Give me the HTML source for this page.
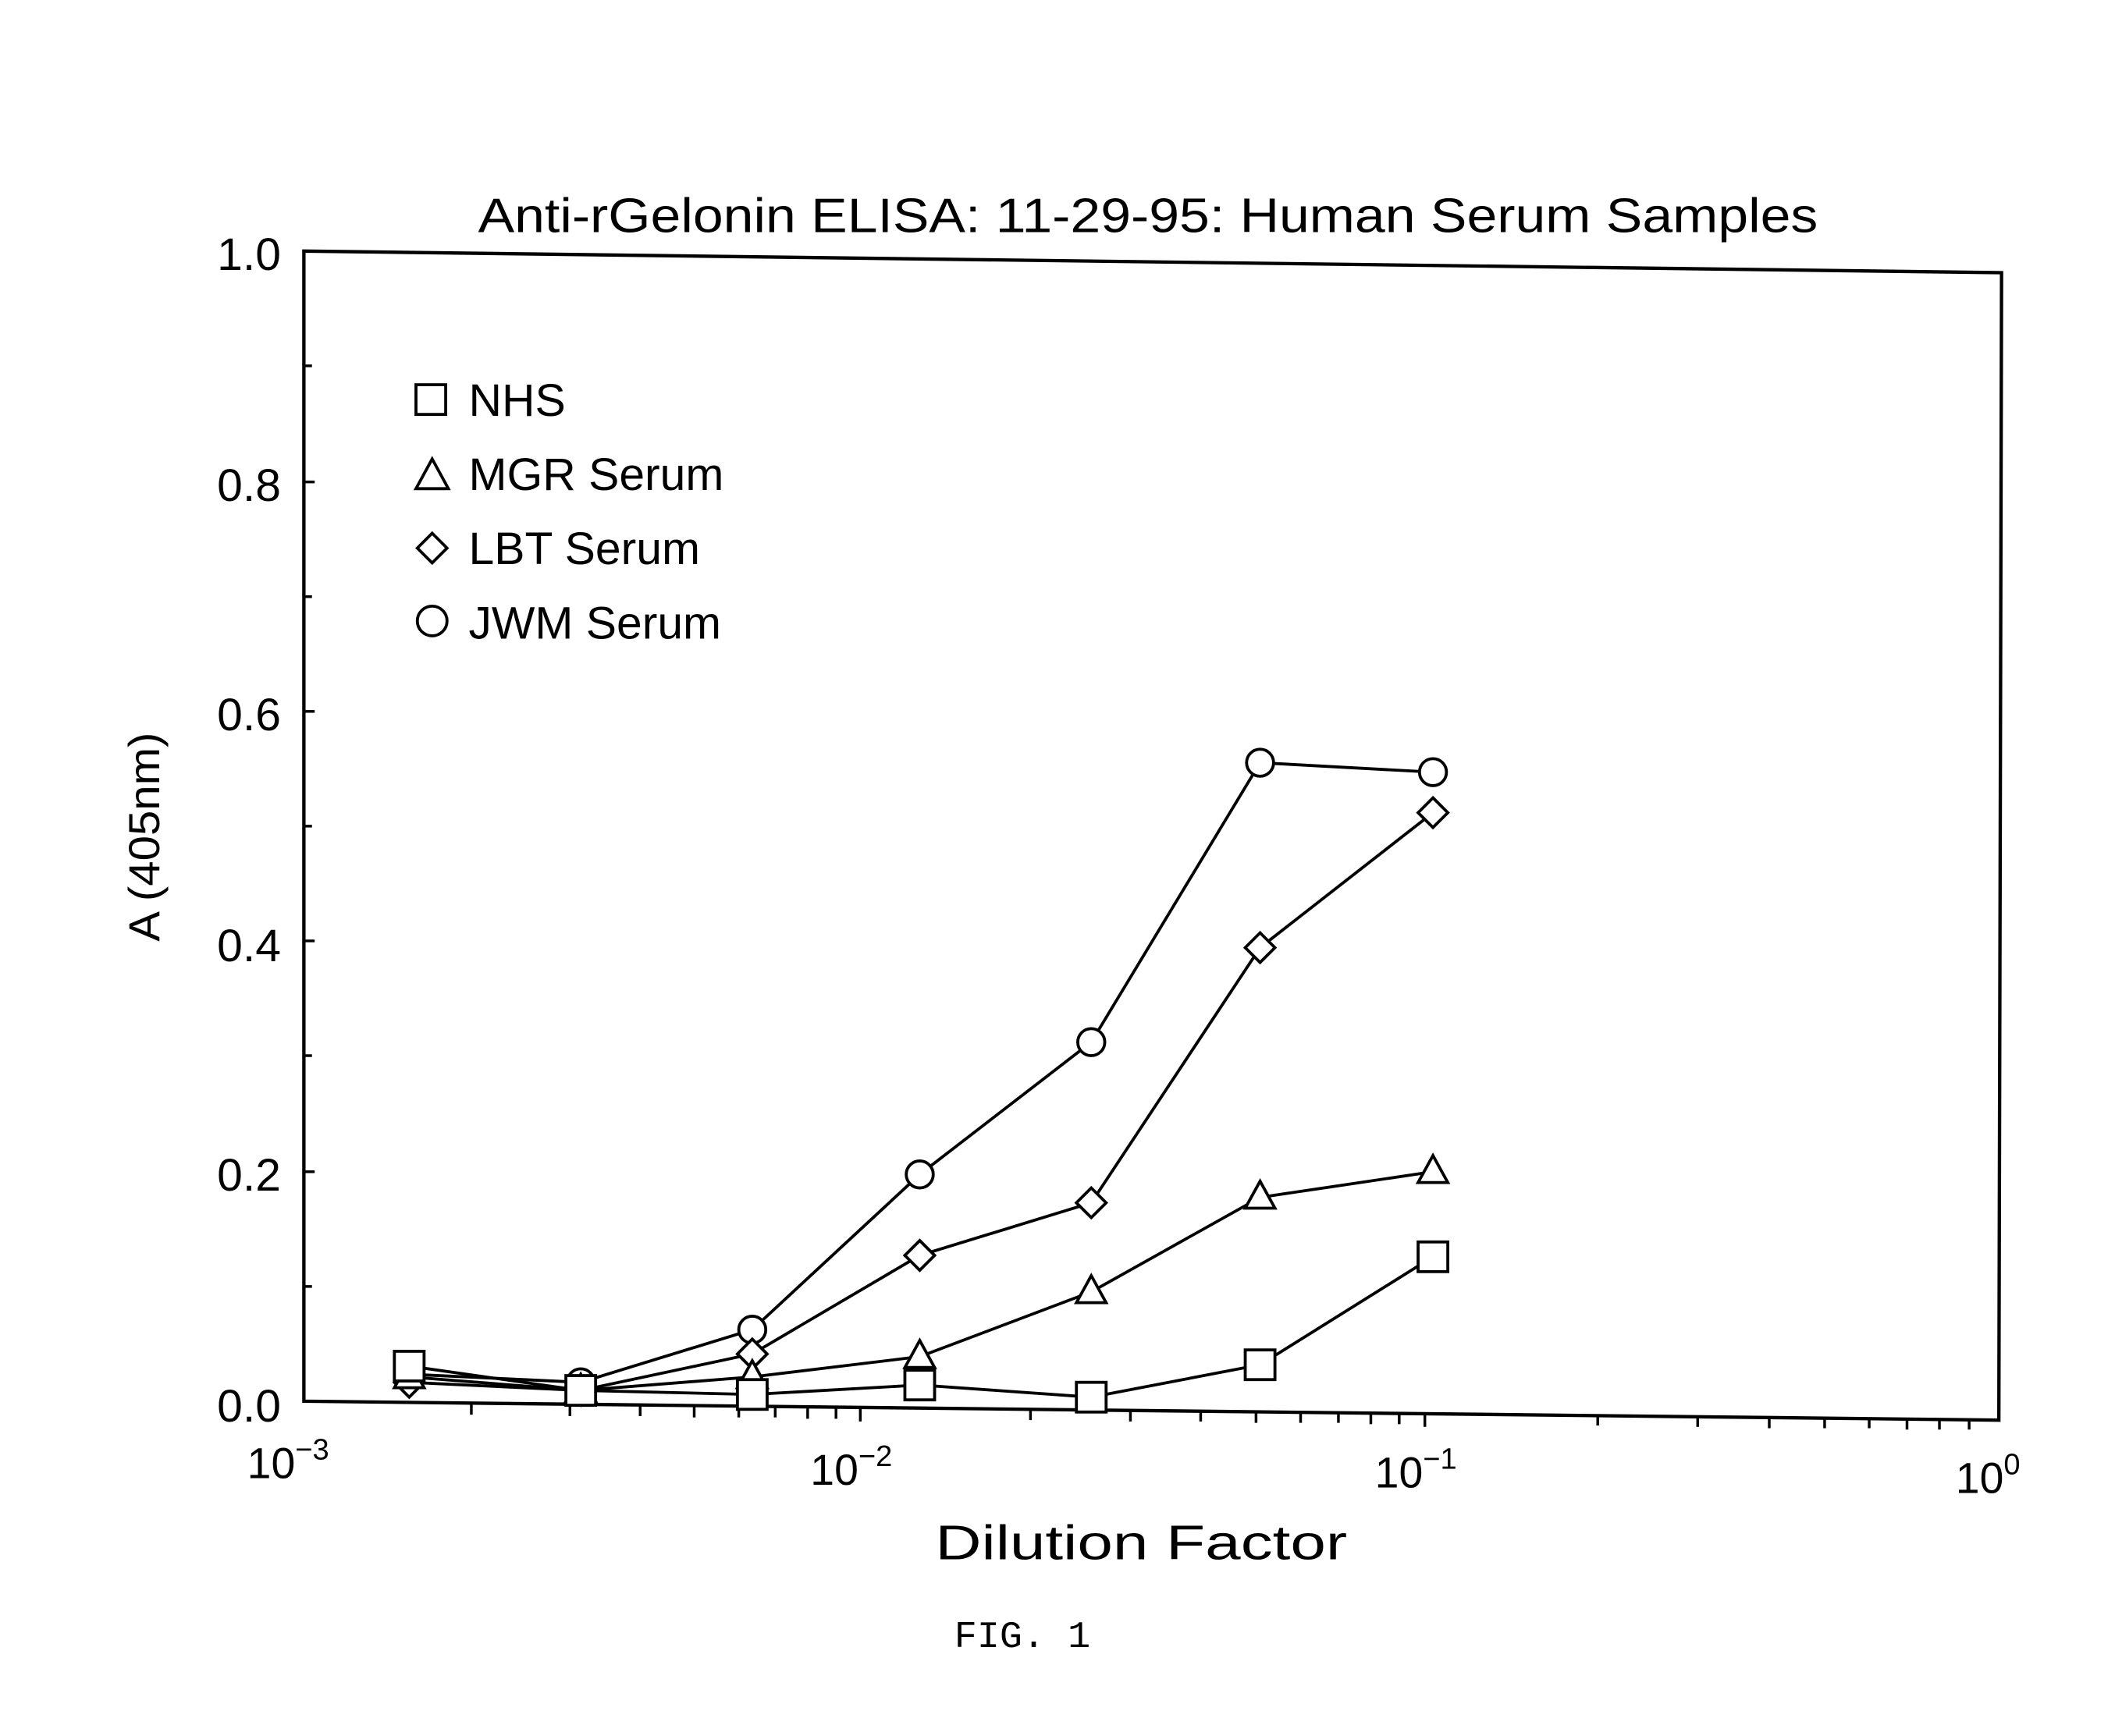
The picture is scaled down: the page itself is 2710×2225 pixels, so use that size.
<!DOCTYPE html>
<html><head><style>html,body{margin:0;padding:0;background:#fff}svg{display:block}</style></head><body>
<svg width="2710" height="2225" viewBox="0 0 1566 1286" preserveAspectRatio="none" xmlns="http://www.w3.org/2000/svg" font-family="'Liberation Sans',sans-serif">
<rect width="1566" height="1286" fill="#fff"/>
<text x="850" y="172" font-size="36" text-anchor="middle" textLength="992" lengthAdjust="spacingAndGlyphs">Anti-rGelonin ELISA: 11-29-95: Human Serum Samples</text>
<polygon points="225,186 1482,202 1480,1052 225,1038" fill="none" stroke="#000" stroke-width="2.5"/>
<g stroke="#000" stroke-width="2">
<line x1="225" y1="271" x2="231" y2="271"/><line x1="225" y1="357" x2="233" y2="357"/>
<line x1="225" y1="442" x2="231" y2="442"/><line x1="225" y1="527" x2="233" y2="527"/>
<line x1="225" y1="612" x2="231" y2="612"/><line x1="225" y1="697" x2="233" y2="697"/>
<line x1="225" y1="782" x2="231" y2="782"/><line x1="225" y1="868" x2="233" y2="868"/>
<line x1="225" y1="953" x2="231" y2="953"/>
</g>
<g stroke="#000" stroke-width="2">
<line x1="349" y1="1040" x2="349" y2="1048"/><line x1="422" y1="1041" x2="422" y2="1049"/><line x1="474" y1="1041" x2="474" y2="1049"/><line x1="514" y1="1042" x2="514" y2="1050"/><line x1="547" y1="1042" x2="547" y2="1050"/><line x1="574" y1="1042" x2="574" y2="1050"/><line x1="598" y1="1043" x2="598" y2="1051"/><line x1="619" y1="1043" x2="619" y2="1051"/><line x1="637" y1="1043" x2="637" y2="1053"/>
<line x1="763" y1="1044" x2="763" y2="1052"/><line x1="837" y1="1045" x2="837" y2="1053"/><line x1="889" y1="1045" x2="889" y2="1053"/><line x1="930" y1="1046" x2="930" y2="1054"/><line x1="963" y1="1046" x2="963" y2="1054"/><line x1="991" y1="1046" x2="991" y2="1054"/><line x1="1015" y1="1047" x2="1015" y2="1055"/><line x1="1036" y1="1047" x2="1036" y2="1055"/><line x1="1055" y1="1047" x2="1055" y2="1057"/>
<line x1="1183" y1="1048" x2="1183" y2="1056"/><line x1="1257" y1="1049" x2="1257" y2="1057"/><line x1="1310" y1="1050" x2="1310" y2="1058"/><line x1="1351" y1="1050" x2="1351" y2="1058"/><line x1="1384" y1="1050" x2="1384" y2="1058"/><line x1="1412" y1="1051" x2="1412" y2="1059"/><line x1="1436" y1="1051" x2="1436" y2="1059"/><line x1="1458" y1="1051" x2="1458" y2="1059"/>
</g>
<g font-size="34" text-anchor="end">
<text x="208" y="200">1.0</text><text x="208" y="371">0.8</text><text x="208" y="541">0.6</text><text x="208" y="712">0.4</text><text x="208" y="882">0.2</text><text x="208" y="1053">0.0</text>
</g>
<g font-size="32">
<text x="183" y="1095">10<tspan dy="-14" font-size="22">−3</tspan></text>
<text x="600" y="1100">10<tspan dy="-14" font-size="22">−2</tspan></text>
<text x="1018" y="1102">10<tspan dy="-14" font-size="22">−1</tspan></text>
<text x="1448" y="1106">10<tspan dy="-14" font-size="22">0</tspan></text>
</g>
<text x="845" y="1155" font-size="36" text-anchor="middle" textLength="305" lengthAdjust="spacingAndGlyphs">Dilution Factor</text>
<text x="757" y="1220" font-size="28" text-anchor="middle" font-family="'Liberation Mono',monospace">FIG. 1</text>
<text transform="translate(118,620) rotate(-90)" font-size="32" text-anchor="middle" textLength="155" lengthAdjust="spacingAndGlyphs">A (405nm)</text>
<g font-size="34">
<text x="347" y="308">NHS</text><text x="347" y="363">MGR Serum</text><text x="347" y="418">LBT Serum</text><text x="347" y="473">JWM Serum</text>
</g>
<g fill="none" stroke="#000" stroke-width="2.2">
<rect x="308" y="285" width="22" height="22"/>
<polygon points="320,340 332,362 308,362"/>
<polygon points="320,395 331,406 320,417 309,406"/>
<circle cx="320" cy="460" r="11"/>
<polyline points="303,1018 430,1024 557,985 681,870 808,772 933,565 1061,572"/>
<polyline points="303,1024 430,1030 557,1003 681,930 808,891 933,702 1061,602"/>
<polyline points="303,1020 430,1030 557,1020 681,1005 808,957 933,887 1061,868"/>
<polyline points="303,1012 430,1030 557,1033 681,1026 808,1035 933,1011 1061,931"/>
</g>
<g fill="#fff" stroke="#000" stroke-width="2.2">
<circle cx="303" cy="1018" r="10"/><circle cx="430" cy="1024" r="10"/><circle cx="557" cy="985" r="10"/><circle cx="681" cy="870" r="10"/><circle cx="808" cy="772" r="10"/><circle cx="933" cy="565" r="10"/><circle cx="1061" cy="572" r="10"/>
<polygon points="303,1013 314,1024 303,1035 292,1024"/><polygon points="430,1019 441,1030 430,1041 419,1030"/><polygon points="557,992 568,1003 557,1014 546,1003"/><polygon points="681,919 692,930 681,941 670,930"/><polygon points="808,880 819,891 808,902 797,891"/><polygon points="933,691 944,702 933,713 922,702"/><polygon points="1061,591 1072,602 1061,613 1050,602"/>
<polygon points="303,1008 314,1028 292,1028"/><polygon points="430,1018 441,1038 419,1038"/><polygon points="557,1008 568,1028 546,1028"/><polygon points="681,993 692,1013 670,1013"/><polygon points="808,945 819,965 797,965"/><polygon points="933,875 944,895 922,895"/><polygon points="1061,856 1072,876 1050,876"/>
<rect x="292" y="1001" width="22" height="22"/><rect x="419" y="1019" width="22" height="22"/><rect x="546" y="1022" width="22" height="22"/><rect x="670" y="1015" width="22" height="22"/><rect x="797" y="1024" width="22" height="22"/><rect x="922" y="1000" width="22" height="22"/><rect x="1050" y="920" width="22" height="22"/>
</g>
</svg>
</body></html>
